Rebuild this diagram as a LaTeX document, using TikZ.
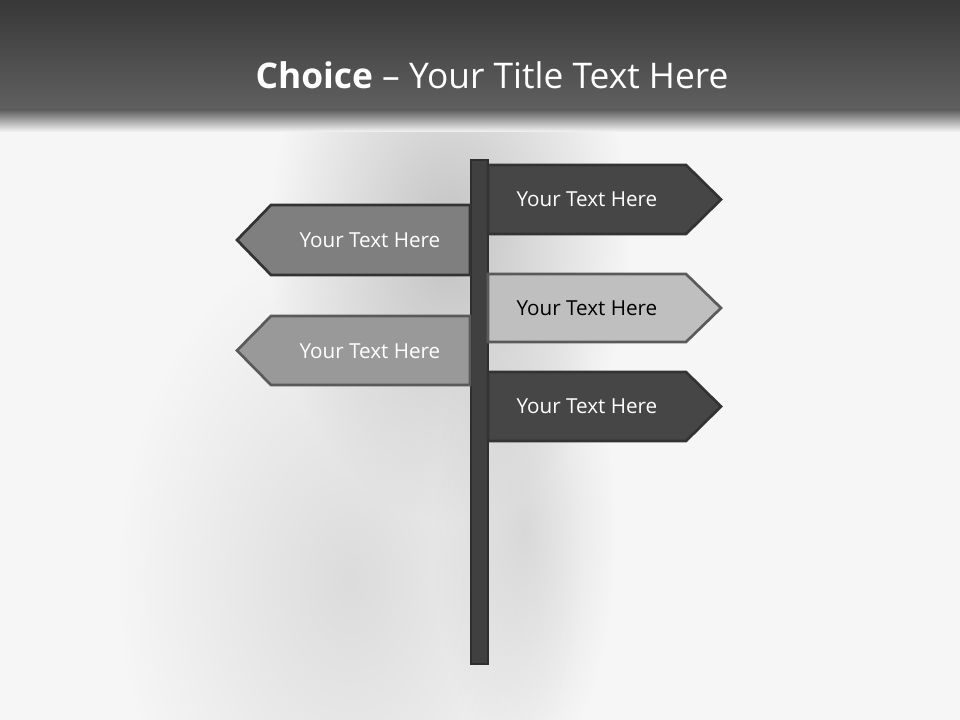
\documentclass[tikz,border=0pt]{standalone}
\usepackage{fontspec}
\setmainfont{Open Sans}
\usetikzlibrary{fadings}
\tikzfading[name=softblob, inner color=transparent!0, outer color=transparent!100]
\begin{document}
\begin{tikzpicture}[x=0.75pt,y=-0.75pt,
  signtext/.style={font=\fontsize{15.5}{18}\selectfont, anchor=center, inner sep=0pt},
  signbox/.style={line width=2pt, line join=miter},
  blobfill/.style={fill=blob, path fading=softblob},
  ]
\definecolor{bg}{HTML}{F6F6F6}
\definecolor{blob}{HTML}{C2C2C2}
\definecolor{sdark}{HTML}{464646}
\definecolor{sdarkline}{HTML}{333333}
\definecolor{smid}{HTML}{7F7F7F}
\definecolor{slight}{HTML}{999999}
\definecolor{spale}{HTML}{BFBFBF}
\definecolor{spaleline}{HTML}{5A5A5A}
\definecolor{pole}{HTML}{404040}
\definecolor{poleline}{HTML}{2E2E2E}
\useasboundingbox (0,0) rectangle (960,720);
% background
\fill[bg] (0,0) rectangle (960,720);
% blurred silhouette
\fill[blobfill] (450,240) ellipse [x radius=180, y radius=280];
\fill[blobfill, fill opacity=0.5] (350,580) ellipse [x radius=230, y radius=340];
\fill[blobfill, fill opacity=0.5] (525,530) ellipse [x radius=90, y radius=240];
% title bar
\shade[top color={rgb,255:red,56;green,56;blue,56}, bottom color={rgb,255:red,96;green,96;blue,96}] (0,0) rectangle (960,110);
\shade[top color={rgb,255:red,96;green,96;blue,96}, bottom color=bg] (0,110) rectangle (960,132);
\node[font=\fontsize{26.5}{31}\selectfont, text=white, inner sep=0pt] (title) at (492,75)
  {\textbf{Choice} – Your Title Text Here};
% pole
\draw[fill=pole, draw=poleline, line width=1.5pt] (471,160) rectangle (488,664);
% signs
\draw[signbox, fill=sdark, draw=sdarkline] (488,165) -- (686,165) -- (721,199.5) -- (686,234) -- (488,234) -- cycle;
\node[signtext, text=white] (s1) at (587,199) {Your Text Here};
\draw[signbox, fill=smid, draw=sdarkline] (470,205) -- (271,205) -- (237,240) -- (271,275) -- (470,275) -- cycle;
\node[signtext, text=white] (s2) at (370,240) {Your Text Here};
\draw[signbox, fill=spale, draw=spaleline] (488,274) -- (686,274) -- (721,308) -- (686,342) -- (488,342) -- cycle;
\node[signtext, text=black] (s3) at (587,308) {Your Text Here};
\draw[signbox, fill=slight, draw=spaleline] (470,316) -- (271,316) -- (237,350.5) -- (271,385) -- (470,385) -- cycle;
\node[signtext, text=white] (s4) at (370,351) {Your Text Here};
\draw[signbox, fill=sdark, draw=sdarkline] (488,372) -- (686,372) -- (721,406.5) -- (686,441) -- (488,441) -- cycle;
\node[signtext, text=white] (s5) at (587,406) {Your Text Here};
\end{tikzpicture}
\end{document}
